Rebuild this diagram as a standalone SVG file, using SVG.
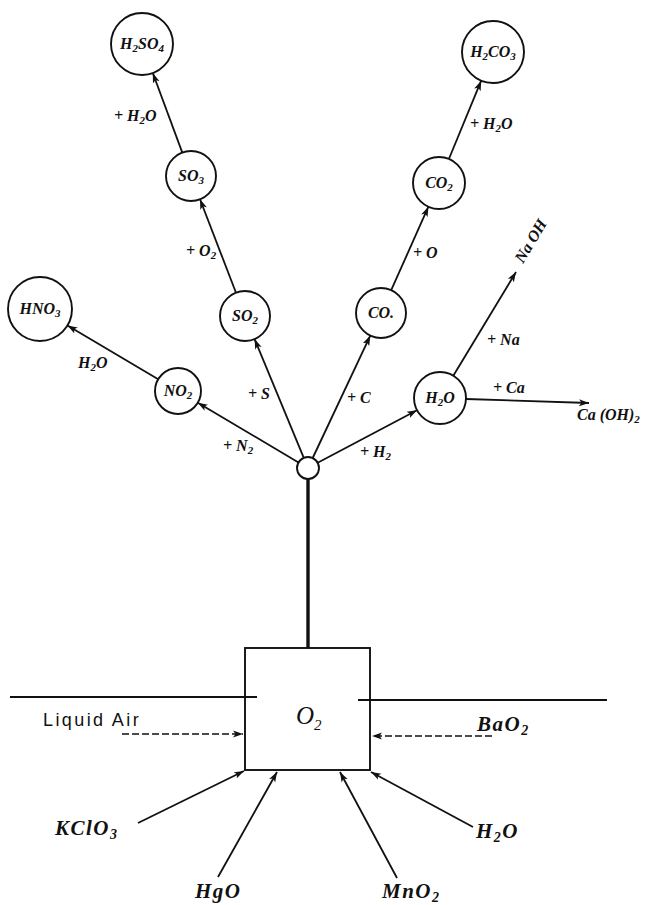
<svg xmlns="http://www.w3.org/2000/svg" width="653" height="905" viewBox="0 0 653 905">
<style>
.node circle{fill:#fff;stroke:#111;stroke-width:1.9}
.lbl{font-family:"Liberation Serif",serif;font-style:italic;font-weight:bold;font-size:16px;fill:#111}
.nl{font-family:"Liberation Serif",serif;font-style:italic;font-weight:bold;font-size:16px;fill:#111;text-anchor:middle}
.big{font-family:"Liberation Serif",serif;font-style:italic;font-weight:bold;font-size:21px;fill:#111;letter-spacing:1.5px}
.edge{stroke:#111;stroke-width:1.8;fill:none}
.dash{stroke:#111;stroke-width:1.5;fill:none;stroke-dasharray:7 3}
.plain{font-family:"Liberation Sans",sans-serif;font-size:18px;fill:#111;letter-spacing:2.4px}
</style>
<defs>
<marker id="ah" markerUnits="userSpaceOnUse" markerWidth="11" markerHeight="8" refX="10" refY="4" orient="auto">
<path d="M0,0.5 L10,4 L0,7.5 L2.5,4 Z" fill="#111"/>
</marker>
</defs>
<rect width="653" height="905" fill="#fff"/>
<g id="connectors">
<line class="edge" x1="298.5" y1="462.4" x2="197.8" y2="402.7" marker-end="url(#ah)"/>
<line class="edge" x1="158.2" y1="379.2" x2="67.5" y2="325.4" marker-end="url(#ah)"/>
<line class="edge" x1="303.8" y1="457.8" x2="254.6" y2="339.1" marker-end="url(#ah)"/>
<line class="edge" x1="236" y1="292.7" x2="200" y2="199.3" marker-end="url(#ah)"/>
<line class="edge" x1="182.3" y1="152.6" x2="152.8" y2="73" marker-end="url(#ah)"/>
<line class="edge" x1="312.7" y1="458" x2="370.3" y2="335.6" marker-end="url(#ah)"/>
<line class="edge" x1="391.2" y1="290.2" x2="428.4" y2="206.7" marker-end="url(#ah)"/>
<line class="edge" x1="448.9" y1="159" x2="481.2" y2="80.7" marker-end="url(#ah)"/>
<line class="edge" x1="317.7" y1="462.8" x2="417" y2="410.2" marker-end="url(#ah)"/>
<line class="edge" x1="453.3" y1="375.7" x2="516" y2="272" marker-end="url(#ah)"/>
<line class="edge" x1="466" y1="399" x2="589" y2="403" marker-end="url(#ah)"/>
<line x1="308" y1="479" x2="308" y2="648" stroke="#111" stroke-width="3.4"/>
<line class="edge" x1="10" y1="697" x2="257" y2="697"/>
<line class="edge" x1="358" y1="700" x2="607" y2="700"/>
<line class="dash" x1="122" y1="734" x2="243" y2="734" marker-end="url(#ah)"/>
<line class="dash" x1="492" y1="736" x2="372" y2="736" marker-end="url(#ah)"/>
<line class="edge" x1="138" y1="823" x2="244" y2="771" marker-end="url(#ah)"/>
<line class="edge" x1="218" y1="877" x2="277" y2="772" marker-end="url(#ah)"/>
<line class="edge" x1="397" y1="878" x2="340" y2="772" marker-end="url(#ah)"/>
<line class="edge" x1="473" y1="827" x2="371" y2="772" marker-end="url(#ah)"/>
</g>
<g id="hub" class="node"><circle cx="308" cy="468" r="11"/></g>
<g id="NO2" class="node"><circle cx="178" cy="391" r="23"/><text class="nl" x="178" y="396">NO<tspan font-size="11" dy="3">2</tspan></text></g>
<g id="HNO3" class="node"><circle cx="40" cy="309" r="32"/><text class="nl" x="40" y="314">HNO<tspan font-size="11" dy="3">3</tspan></text></g>
<g id="SO2" class="node"><circle cx="245" cy="316" r="25"/><text class="nl" x="245" y="321">SO<tspan font-size="11" dy="3">2</tspan></text></g>
<g id="SO3" class="node"><circle cx="191" cy="176" r="25"/><text class="nl" x="191" y="181">SO<tspan font-size="11" dy="3">3</tspan></text></g>
<g id="H2SO4" class="node"><circle cx="142" cy="44" r="31"/><text class="nl" x="142" y="49">H<tspan font-size="11" dy="3">2</tspan><tspan dy="-3">SO</tspan><tspan font-size="11" dy="3">4</tspan></text></g>
<g id="CO" class="node"><circle cx="381" cy="313" r="25"/><text class="nl" x="381" y="318">CO.</text></g>
<g id="CO2" class="node"><circle cx="439" cy="183" r="26"/><text class="nl" x="439" y="188">CO<tspan font-size="11" dy="3">2</tspan></text></g>
<g id="H2CO3" class="node"><circle cx="493" cy="52" r="31"/><text class="nl" x="493" y="57">H<tspan font-size="11" dy="3">2</tspan><tspan dy="-3">CO</tspan><tspan font-size="11" dy="3">3</tspan></text></g>
<g id="H2O" class="node"><circle cx="440" cy="398" r="26"/><text class="nl" x="440" y="403">H<tspan font-size="11" dy="3">2</tspan><tspan dy="-3">O</tspan></text></g>
<g id="O2box"><rect x="245" y="648" width="125" height="122" fill="none" stroke="#111" stroke-width="1.9"/><text x="296" y="724" font-family="Liberation Serif, serif" font-style="italic" font-size="25" fill="#111">O<tspan font-size="15" dy="6">2</tspan></text></g>
<g id="labels">
<text class="lbl" x="114" y="121">+ H<tspan font-size="11" dy="3">2</tspan><tspan dy="-3">O</tspan></text>
<text class="lbl" x="186" y="256">+ O<tspan font-size="11" dy="3">2</tspan></text>
<text class="lbl" x="78" y="368">H<tspan font-size="11" dy="3">2</tspan><tspan dy="-3">O</tspan></text>
<text class="lbl" x="223" y="451">+ N<tspan font-size="11" dy="3">2</tspan></text>
<text class="lbl" x="248" y="399">+ S</text>
<text class="lbl" x="347" y="403">+ C</text>
<text class="lbl" x="413" y="258">+ O</text>
<text class="lbl" x="470" y="129">+ H<tspan font-size="11" dy="3">2</tspan><tspan dy="-3">O</tspan></text>
<text class="lbl" x="360" y="457">+ H<tspan font-size="11" dy="3">2</tspan></text>
<text class="lbl" x="487" y="345">+ Na</text>
<text class="lbl" x="493" y="393">+ Ca</text>
<text class="lbl" transform="translate(523,264) rotate(-59)">Na OH</text>
<text class="lbl" x="577" y="420">Ca (OH)<tspan font-size="11" dy="3">2</tspan></text>
</g>
<g id="sources">
<text class="plain" x="43" y="726">Liquid Air</text>
<text class="big" x="477" y="731">BaO<tspan font-size="14" dy="4">2</tspan></text>
<text class="big" x="55" y="835" letter-spacing="2.5">KClO<tspan font-size="14" dy="4">3</tspan></text>
<text class="big" x="195" y="898">HgO</text>
<text class="big" x="382" y="898">MnO<tspan font-size="14" dy="4">2</tspan></text>
<text class="big" x="476" y="838" letter-spacing="2">H<tspan font-size="14" dy="4">2</tspan><tspan dy="-4">O</tspan></text>
</g>
</svg>
